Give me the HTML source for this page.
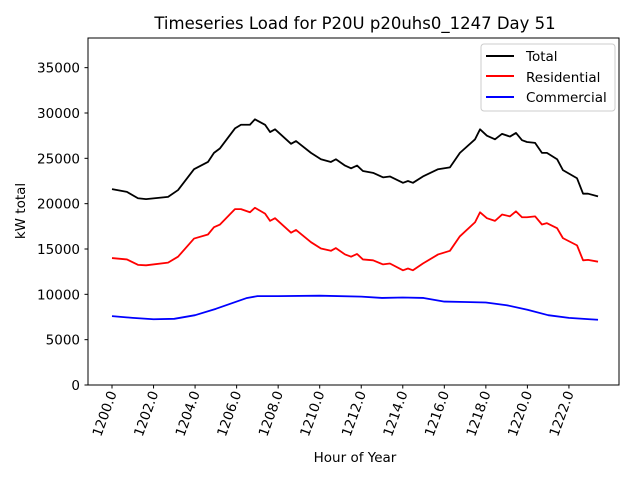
<!DOCTYPE html>
<html><head><meta charset="utf-8"><style>
body{margin:0;background:#fff}
svg{display:block;font-family:"DejaVu Sans","Liberation Sans",sans-serif}
</style></head><body>
<svg id="chart" width="640" height="480" viewBox="0 0 640 480" xmlns="http://www.w3.org/2000/svg">
<rect width="640" height="480" fill="#fff"/>
<text x="355" y="29" font-size="16.5" text-anchor="middle">Timeseries Load for P20U p20uhs0_1247  Day 51</text>
<g id="plot"></g>
<rect x="88" y="38" width="531" height="347" fill="none" stroke="#000" stroke-width="1"/>
<text x="355" y="462" font-size="13.5" text-anchor="middle">Hour of Year</text>
<text transform="translate(25,211) rotate(-90)" font-size="13.5" text-anchor="middle">kW total</text>
<g>
<rect x="481" y="44" width="134" height="67" rx="3" fill="#fff" fill-opacity="0.8" stroke="#ccc"/>
<line x1="486" y1="56" x2="514" y2="56" stroke="#000" stroke-width="2"/>
<text x="526" y="61" font-size="13.5">Total</text>
<line x1="486" y1="76" x2="514" y2="76" stroke="#f00" stroke-width="2"/>
<text x="526" y="82" font-size="13.5">Residential</text>
<line x1="486" y1="97" x2="514" y2="97" stroke="#00f" stroke-width="2"/>
<text x="526" y="102" font-size="13.5">Commercial</text>
</g>
</svg>
<script>
const hours=[1200,1200.72,1201.25,1201.64,1202.7,1203.18,1203.95,1204.62,1204.91,1205.2,1205.92,1206.21,1206.64,1206.88,1207.37,1207.61,1207.85,1208.62,1208.86,1209.58,1210.06,1210.54,1210.78,1211.22,1211.51,1211.8,1212.08,1212.57,1213.05,1213.38,1214.01,1214.25,1214.49,1214.97,1215.7,1216.27,1216.75,1217.48,1217.72,1218.05,1218.44,1218.78,1219.16,1219.45,1219.74,1219.98,1220.37,1220.7,1220.94,1221.43,1221.71,1222.39,1222.68,1222.92,1223.4];
const totalValues=[21600,21300,20600,20500,20750,21500,23800,24600,25600,26100,28300,28700,28700,29300,28700,27900,28200,26600,26900,25600,24900,24600,24900,24200,23900,24200,23600,23400,22900,23000,22300,22500,22300,23000,23800,24000,25600,27100,28200,27500,27100,27700,27400,27800,27000,26800,26700,25600,25600,24900,23700,22800,21100,21100,20800];
const residentialValues=[14000,13850,13250,13200,13500,14150,16150,16600,17400,17700,19400,19400,19050,19550,18900,18100,18400,16800,17100,15750,15050,14800,15100,14400,14150,14450,13850,13750,13300,13400,12650,12850,12650,13400,14400,14800,16400,17950,19050,18400,18100,18800,18600,19150,18500,18500,18600,17700,17850,17300,16200,15400,13750,13800,13600];
const commercialHours=[1200,1201,1202,1203,1204,1205,1206,1206.5,1207,1208,1210,1212,1213,1214,1215,1216,1217,1218,1219,1220,1221,1222,1223,1223.4];
const commercialValues=[7600,7400,7250,7300,7700,8400,9200,9600,9800,9800,9850,9750,9600,9650,9600,9200,9150,9100,8800,8300,7700,7400,7250,7200];
const yTicks=[0,5000,10000,15000,20000,25000,30000,35000];
const xTicks=[1200,1202,1204,1206,1208,1210,1212,1214,1216,1218,1220,1222];

const NS="http://www.w3.org/2000/svg";
const g=document.getElementById('plot');
function X(h){return 112+(h-1200)*20.77;}
function Y(v){return 385-v*0.009067;}
function mk(t,a){const e=document.createElementNS(NS,t);for(const k in a)e.setAttribute(k,a[k]);g.appendChild(e);return e;}
yTicks.forEach(v=>{
  const l=mk('line',{x1:84.5,x2:88,y1:Y(v),y2:Y(v),stroke:'#000'});
  
  
  const t=mk('text',{x:80,y:Y(v)+5,'font-size':13.5,'text-anchor':'end'});
  
  
  t.textContent=v;
});
xTicks.forEach(h=>{
  const x=X(h);
  const l=mk('line',{x1:x,x2:x,y1:385,y2:388.5,stroke:'#000'});
  
  
  const t=mk('text',{transform:`translate(${x+5},393) rotate(-70)`,'font-size':13.5,'text-anchor':'end'});
  
  
  t.textContent=h.toFixed(1);
});
function line(xs,vs,color,name){
  const p=mk('polyline',{points:xs.map((h,i)=>X(h)+','+Y(vs[i])).join(' '),fill:'none',stroke:color,'stroke-width':1.8,'stroke-linejoin':'round'});
  
  
}
line(hours,totalValues,'#000','total-line');
line(hours,residentialValues,'#f00','residential-line');
line(commercialHours,commercialValues,'#00f','commercial-line');
</script>
</body></html>
